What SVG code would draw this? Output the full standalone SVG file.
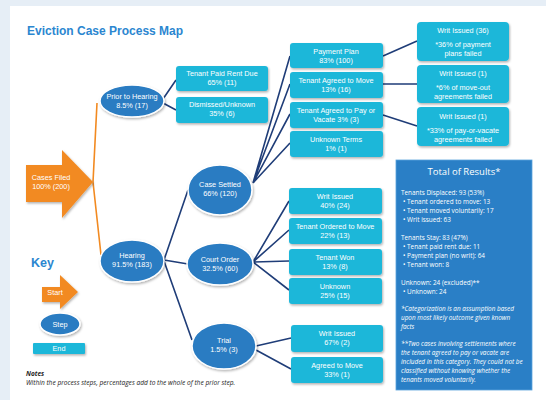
<svg xmlns="http://www.w3.org/2000/svg" width="546" height="400" viewBox="0 0 546 400">
<defs>
<filter id="sh" x="-20%" y="-20%" width="140%" height="150%">
<feDropShadow dx="1" dy="1.5" stdDeviation="1.2" flood-color="#000" flood-opacity="0.3"/>
</filter>
</defs>
<style>
.step{fill:#2a7cc2;stroke:#fff;stroke-width:1.5;filter:url(#sh)}
.box{fill:#1db7d9;filter:url(#sh)}
.t{font-family:"Liberation Sans",Arial,sans-serif;font-size:7.3px;fill:#fff;text-anchor:middle}
.c{stroke:#1f3d78;stroke-width:1.6;fill:none}
.o{stroke:#f28a21;stroke-width:1.6;fill:none}
.r{font-family:"Open Sans","Liberation Sans",sans-serif;font-size:6.4px;fill:#fff}
.ri{font-style:italic}
.h{font-family:"Liberation Sans",Arial,sans-serif;font-weight:bold;fill:#2b86d0}
</style>
<rect x="0" y="0" width="546" height="400" fill="#e6eef6"/>
<rect x="10" y="6" width="536" height="394" fill="#fff"/>
<text class="h" x="27" y="35" font-size="12">Eviction Case Process Map</text>

<g id="connectors">
<path class="o" d="M93,182 L97,103 M93,182 L101,255"/>
<path class="c" d="M163,99 L176,80 M163,103 L176,110"/>
<path class="c" d="M164,260 L188,190 M164,260 L188,264 M164,261 L192,340"/>
<path class="c" d="M253,183 L290,56 M253,183 L290,84 M253,183 L290,114 M253,183 L290,143"/>
<path class="c" d="M383,56 L417,41 M383,84 L417,84 M383,115 L417,126"/>
<path class="c" d="M253,262 L289,201 M253,262 L289,230 M253,262 L289,261 M253,262 L289,290"/>
<path class="c" d="M256,346 L291,338 M256,350 L291,369"/>
</g>

<g id="cases-filed">
<path d="M26,165 L62,165 L62,150 L93,182 L62,218 L62,202 L26,202 Z" fill="#f28a21" filter="url(#sh)"/>
<text class="t" x="51" y="180">Cases Filed</text>
<text class="t" x="51" y="189">100% (200)</text>
</g>

<g id="prior-to-hearing">
<ellipse class="step" cx="132" cy="101" rx="32" ry="16"/>
<text class="t" x="132" y="99">Prior to Hearing</text>
<text class="t" x="132" y="108">8.5% (17)</text>
</g>
<g id="hearing">
<ellipse class="step" cx="132" cy="261" rx="32" ry="21"/>
<text class="t" x="132" y="258">Hearing</text>
<text class="t" x="132" y="267">91.5% (183)</text>
</g>
<g id="case-settled">
<ellipse class="step" cx="220" cy="190" rx="32" ry="25"/>
<text class="t" x="220" y="187">Case Settled</text>
<text class="t" x="220" y="196">66% (120)</text>
</g>
<g id="court-order">
<ellipse class="step" cx="220" cy="264" rx="33" ry="21"/>
<text class="t" x="220" y="262">Court Order</text>
<text class="t" x="220" y="271">32.5% (60)</text>
</g>
<g id="trial">
<ellipse class="step" cx="224" cy="346" rx="32" ry="23"/>
<text class="t" x="224" y="343">Trial</text>
<text class="t" x="224" y="352">1.5% (3)</text>
</g>

<g id="tenant-paid">
<rect class="box" x="176" y="66" width="92" height="25" rx="3"/>
<text class="t" x="222" y="76">Tenant Paid Rent Due</text>
<text class="t" x="222" y="85">65% (11)</text>
</g>
<g id="dismissed">
<rect class="box" x="176" y="97" width="92" height="26" rx="3"/>
<text class="t" x="222" y="107">Dismissed/Unknown</text>
<text class="t" x="222" y="116">35% (6)</text>
</g>

<g id="payment-plan">
<rect class="box" x="290" y="43" width="93" height="25" rx="3"/>
<text class="t" x="336" y="54">Payment Plan</text>
<text class="t" x="336" y="63">83% (100)</text>
</g>
<g id="agreed-move">
<rect class="box" x="290" y="72" width="93" height="26" rx="3"/>
<text class="t" x="336" y="83">Tenant Agreed to Move</text>
<text class="t" x="336" y="92">13% (16)</text>
</g>
<g id="agreed-pay">
<rect class="box" x="290" y="102" width="93" height="26" rx="3"/>
<text class="t" x="336" y="113">Tenant Agreed to Pay or</text>
<text class="t" x="336" y="122">Vacate 3% (3)</text>
</g>
<g id="unknown-terms">
<rect class="box" x="290" y="131" width="93" height="26" rx="3"/>
<text class="t" x="336" y="142">Unknown Terms</text>
<text class="t" x="336" y="151">1% (1)</text>
</g>

<g id="writ-1">
<rect class="box" x="417" y="22" width="92" height="39" rx="4"/>
<text class="t" x="463" y="33">Writ Issued (36)</text>
<text class="t" x="463" y="47">*36% of payment</text>
<text class="t" x="463" y="56">plans failed</text>
</g>
<g id="writ-2">
<rect class="box" x="417" y="65" width="92" height="38" rx="4"/>
<text class="t" x="463" y="76">Writ Issued (1)</text>
<text class="t" x="463" y="90">*6% of move-out</text>
<text class="t" x="463" y="99">agreements failed</text>
</g>
<g id="writ-3">
<rect class="box" x="417" y="107" width="92" height="39" rx="4"/>
<text class="t" x="463" y="119">Writ Issued (1)</text>
<text class="t" x="463" y="133">*33% of pay-or-vacate</text>
<text class="t" x="463" y="142">agreements failed</text>
</g>

<g id="co-writ">
<rect class="box" x="289" y="188" width="93" height="26" rx="3"/>
<text class="t" x="335" y="199">Writ Issued</text>
<text class="t" x="335" y="208">40% (24)</text>
</g>
<g id="co-ordered">
<rect class="box" x="289" y="218" width="93" height="26" rx="3"/>
<text class="t" x="335" y="229">Tenant Ordered to Move</text>
<text class="t" x="335" y="238">22% (13)</text>
</g>
<g id="co-won">
<rect class="box" x="289" y="249" width="93" height="26" rx="3"/>
<text class="t" x="335" y="260">Tenant Won</text>
<text class="t" x="335" y="269">13% (8)</text>
</g>
<g id="co-unknown">
<rect class="box" x="289" y="278" width="93" height="26" rx="3"/>
<text class="t" x="335" y="289">Unknown</text>
<text class="t" x="335" y="298">25% (15)</text>
</g>

<g id="trial-writ">
<rect class="box" x="291" y="325" width="92" height="27" rx="3"/>
<text class="t" x="337" y="336">Writ Issued</text>
<text class="t" x="337" y="345">67% (2)</text>
</g>
<g id="trial-move">
<rect class="box" x="291" y="357" width="92" height="26" rx="3"/>
<text class="t" x="337" y="368">Agreed to Move</text>
<text class="t" x="337" y="377">33% (1)</text>
</g>

<g id="results">
<rect x="396" y="160" width="136" height="230" fill="#2a7fc6" stroke="#5aa3dd" stroke-width="0.8"/>
<text x="464" y="175" font-family="'Open Sans','Liberation Sans',sans-serif" font-size="9.5" fill="#fff" text-anchor="middle">Total of Results*</text>
<text class="r" x="401" y="195">Tenants Displaced: 93 (53%)</text>
<text class="r" x="403" y="204">•  Tenant ordered to move: 13</text>
<text class="r" x="403" y="213">•  Tenant moved voluntarily: 17</text>
<text class="r" x="403" y="222">•  Writ issued: 63</text>
<text class="r" x="401" y="240">Tenants Stay: 83 (47%)</text>
<text class="r" x="403" y="249">•  Tenant paid rent due: 11</text>
<text class="r" x="403" y="258">•  Payment plan (no writ): 64</text>
<text class="r" x="403" y="267">•  Tenant won: 8</text>
<text class="r" x="401" y="285">Unknown: 24 (excluded)**</text>
<text class="r" x="403" y="294">•  Unknown: 24</text>
<text class="r ri" x="401" y="311">*Categorization is an assumption based</text>
<text class="r ri" x="401" y="320">upon most likely outcome given known</text>
<text class="r ri" x="401" y="329">facts</text>
<text class="r ri" x="401" y="346">**Two cases involving settlements where</text>
<text class="r ri" x="401" y="355">the tenant agreed to pay or vacate are</text>
<text class="r ri" x="401" y="364">included in this category. They could not be</text>
<text class="r ri" x="401" y="373">classified without knowing whether the</text>
<text class="r ri" x="401" y="382">tenants moved voluntarily.</text>
</g>

<g id="key">
<text class="h" x="31" y="267" font-size="12.5">Key</text>
</g>
<g id="key-start">
<path d="M42,287 L60,287 L60,275 L78,292 L60,309 L60,302 L42,302 Z" fill="#f28a21" filter="url(#sh)"/>
<text class="t" x="55" y="295">Start</text>
</g>
<g id="key-step">
<ellipse class="step" cx="60" cy="324" rx="20" ry="11"/>
<text class="t" x="60" y="327">Step</text>
</g>
<g id="key-end">
<rect class="box" x="33" y="343" width="52" height="11" rx="1"/>
<text class="t" x="59" y="351">End</text>
</g>

<g id="notes">
<text x="26" y="376" font-family="'Open Sans','Liberation Sans',sans-serif" font-size="6.5" font-weight="bold" font-style="italic" fill="#222">Notes</text>
<text x="26" y="385" font-family="'Open Sans','Liberation Sans',sans-serif" font-size="6.6" font-style="italic" fill="#222">Within the process steps, percentages add to the whole of the prior step.</text>
</g>
</svg>
